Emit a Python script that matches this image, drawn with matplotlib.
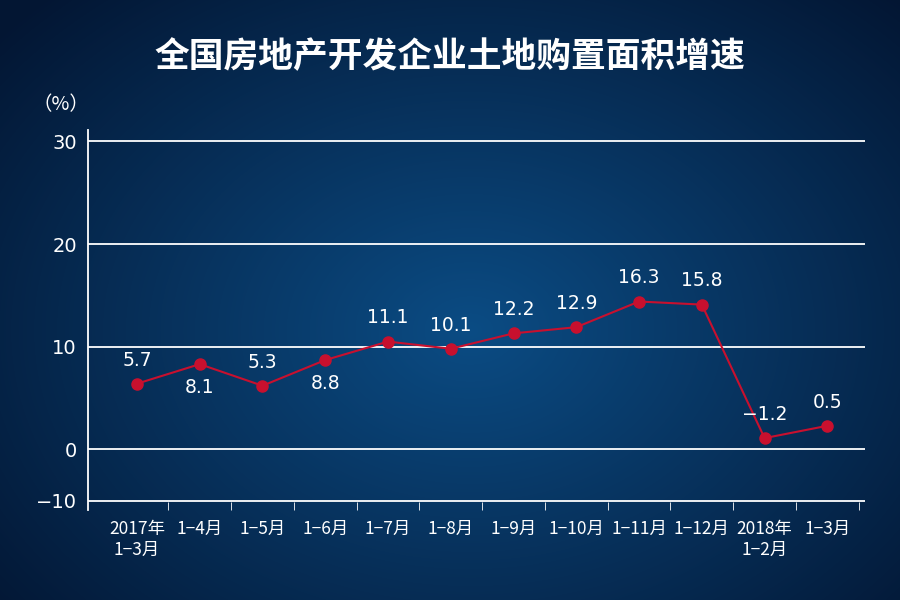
import numpy as np
import matplotlib
matplotlib.use('Agg')
import matplotlib.pyplot as plt

plt.rcParams['font.family'] = ['Noto Sans CJK SC', 'DejaVu Sans']

categories = ['2017年\n1−3月', '1−4月', '1−5月', '1−6月', '1−7月', '1−8月', '1−9月',
              '1−10月', '1−11月', '1−12月', '2018年\n1−2月', '1−3月']
# point heights as drawn in the picture
values = [6.4, 8.3, 6.2, 8.7, 10.5, 9.8, 11.3, 11.9, 14.4, 14.1, 1.1, 2.3]
labels = ['5.7', '8.1', '5.3', '8.8', '11.1', '10.1', '12.2', '12.9', '16.3', '15.8', '−1.2', '0.5']
label_above = [True, False, True, False, True, True, True, True, True, True, True, True]
yticks = [-5, 0, 10, 20, 30]
ytick_labels = ['−10', '0', '10', '20', '30']

fig = plt.figure(figsize=(9, 6), dpi=100)

# radial blue background
bg = fig.add_axes([0, 0, 1, 1], zorder=-1)
yy, xx = np.mgrid[0:600, 0:900]
r = np.sqrt(((xx - 470) / 620) ** 2 + ((yy - 330) / 460) ** 2)
r = np.clip(r, 0, 1)
c0 = np.array([0x0b, 0x4c, 0x84]) / 255
c1 = np.array([0x03, 0x16, 0x33]) / 255
img = c0[None, None, :] * (1 - r[..., None]) + c1[None, None, :] * r[..., None]
bg.imshow(img, aspect='auto')
bg.axis('off')

ax = fig.add_axes([88 / 900, 1 - 510 / 600, (865 - 88) / 900, (510 - 130) / 600])
ax.set_facecolor('none')
x = np.arange(len(categories))
ax.set_xlim(-0.78, len(categories) - 1 + 0.6)
ax.set_ylim(-5.9, 31.1)
for t in [0, 10, 20, 30]:
    ax.axhline(t, color='white', lw=1.3, zorder=1)
ax.axhline(-5, color='white', lw=1.3, zorder=1)
ax.set_yticks(yticks)
ax.set_yticklabels(ytick_labels, color='white', fontsize=14, family='DejaVu Sans')
ax.tick_params(axis='y', length=0, pad=8)
ax.set_xticks(x)
ax.set_xticklabels(categories, color='white', fontsize=12.5, linespacing=1.2)
ax.tick_params(axis='x', length=0, pad=7)
ax.set_xticks(x + 0.5, minor=True)
ax.tick_params(axis='x', which='minor', length=6, color='white', direction='in')
for s in ['top', 'right', 'bottom']:
    ax.spines[s].set_visible(False)
ax.spines['left'].set_color('white')
ax.spines['left'].set_linewidth(1.3)

ax.plot(x, values, color='#c8102e', lw=1.5, marker='o', ms=8,
        markerfacecolor='#c8102e', markeredgecolor='#c8102e', zorder=3)
for xi, v, lab, up in zip(x, values, labels, label_above):
    ax.text(xi, v + (2.3 if up else -2.3), lab, color='white', fontsize=13.5,
            ha='center', va='center', family='DejaVu Sans')

fig.text(0.5, 0.905, '全国房地产开发企业土地购置面积增速', color='white',
         fontsize=25, fontweight='bold', ha='center', va='center')
fig.text(0.068, 0.825, '（%）', color='white', fontsize=14, ha='center', va='center')

fig.savefig('out.png', dpi=100)
